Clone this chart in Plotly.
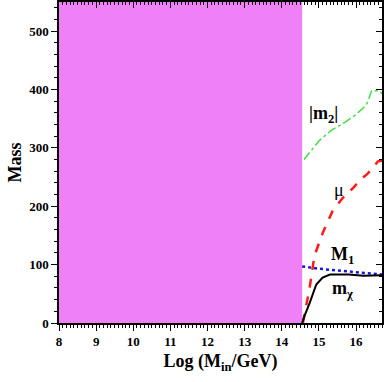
import plotly.graph_objects as go

# excluded region (no EWSB / tachyonic) below this input scale
excl_min, excl_max = 8.0, 14.55

# curves: x = log10(M_in/GeV), y = mass
mchi_x = [14.55, 14.6, 14.75, 14.93, 15.1, 15.3, 15.8, 16.2, 16.7]
mchi_y = [0, 10, 34, 66, 78, 83, 83, 81, 82]

m1_x = [14.55, 15.0, 15.5, 16.0, 16.7]
m1_y = [97, 93, 90, 87, 83]

mu_x = [14.57, 14.75, 14.88, 15.1, 15.37, 15.64, 15.9, 16.16, 16.3, 16.45, 16.59, 16.7]
mu_y = [0, 60, 115, 154, 192, 214, 230, 248, 255, 265, 277, 278]

m2_x = [14.6, 15.0, 15.35, 15.65, 16.0, 16.28, 16.35, 16.42, 16.62, 16.7]
m2_y = [280, 312, 331, 342, 357, 374, 385, 398, 398, 393]

labels = ["|m<sub>2</sub>|", "μ", "M<sub>1</sub>", "m<sub>χ</sub>"]
label_x = [15.12, 15.55, 15.64, 15.64]
label_y = [358, 228, 115, 57]

X_RANGE = [8, 16.7]
Y_RANGE = [0, 550]
FONT = "Liberation Serif"

fig = go.Figure()

fig.add_shape(type="rect", xref="x", yref="paper",
              x0=excl_min, x1=excl_max, y0=0, y1=1,
              fillcolor="#EF80F6", line_width=0, layer="below")

fig.add_trace(go.Scatter(x=m2_x, y=m2_y, mode="lines",
                         line=dict(color="#44DD44", width=1.5, dash="dashdot")))
fig.add_trace(go.Scatter(x=mu_x, y=mu_y, mode="lines",
                         line=dict(color="#FF1A1A", width=2.5, dash="dash")))
fig.add_trace(go.Scatter(x=m1_x, y=m1_y, mode="lines",
                         line=dict(color="#1515E0", width=2.5, dash="dot")))
fig.add_trace(go.Scatter(x=mchi_x, y=mchi_y, mode="lines",
                         line=dict(color="black", width=2)))
# dummy trace so the top/right overlay axes get drawn
fig.add_trace(go.Scatter(x=[8], y=[0], xaxis="x2", yaxis="y2", mode="markers",
                         marker_opacity=0, hoverinfo="skip"))

for t, lx, ly in zip(labels, label_x, label_y):
    txt = t if t == "μ" else "<b>%s</b>" % t
    fig.add_annotation(x=lx, y=ly, text=txt, showarrow=False,
                       font=dict(family=FONT, size=18, color="black"))

common = dict(showgrid=False, zeroline=False, showline=True, linecolor="black",
              linewidth=1.5, tickcolor="black", ticklen=6, tickwidth=1.2,
              tickprefix="<b>", ticksuffix="</b>",
              tickfont=dict(family=FONT, size=13, color="black"))
inner = dict(showticklabels=False, showline=True, linecolor="black", linewidth=1.5,
             ticks="inside", ticklen=6, tickwidth=1.2, tickcolor="black",
             showgrid=False, zeroline=False)

fig.update_layout(
    xaxis=dict(range=X_RANGE, dtick=1, ticks="outside",
               minor=dict(dtick=0.1, ticks="outside", ticklen=3, tickcolor="black", tickwidth=1),
               title=dict(text="<b>Log (M<sub>in</sub>/GeV)</b>",
                          font=dict(family=FONT, size=18, color="black"), standoff=6),
               **common),
    yaxis=dict(range=Y_RANGE, dtick=100, ticks="outside",
               minor=dict(dtick=20, ticks="outside", ticklen=3, tickcolor="black", tickwidth=1),
               title=dict(text="<b>Mass</b>",
                          font=dict(family=FONT, size=18, color="black"), standoff=3),
               **common),
    xaxis2=dict(overlaying="x", side="top", range=X_RANGE, dtick=1,
                minor=dict(dtick=0.1, ticks="inside", ticklen=3, tickcolor="black", tickwidth=1),
                **inner),
    yaxis2=dict(overlaying="y", side="right", range=Y_RANGE, dtick=100,
                minor=dict(dtick=20, ticks="inside", ticklen=3, tickcolor="black", tickwidth=1),
                **inner),
    width=384, height=382, showlegend=False,
    plot_bgcolor="white", paper_bgcolor="white",
    margin=dict(l=59, r=2, t=2, b=59),
)

# drop the browser's default body margin so the figure sits at the page corner
fig.write_html("out.html", config={"displayModeBar": False},
               post_script="document.body.style.margin='0';")
